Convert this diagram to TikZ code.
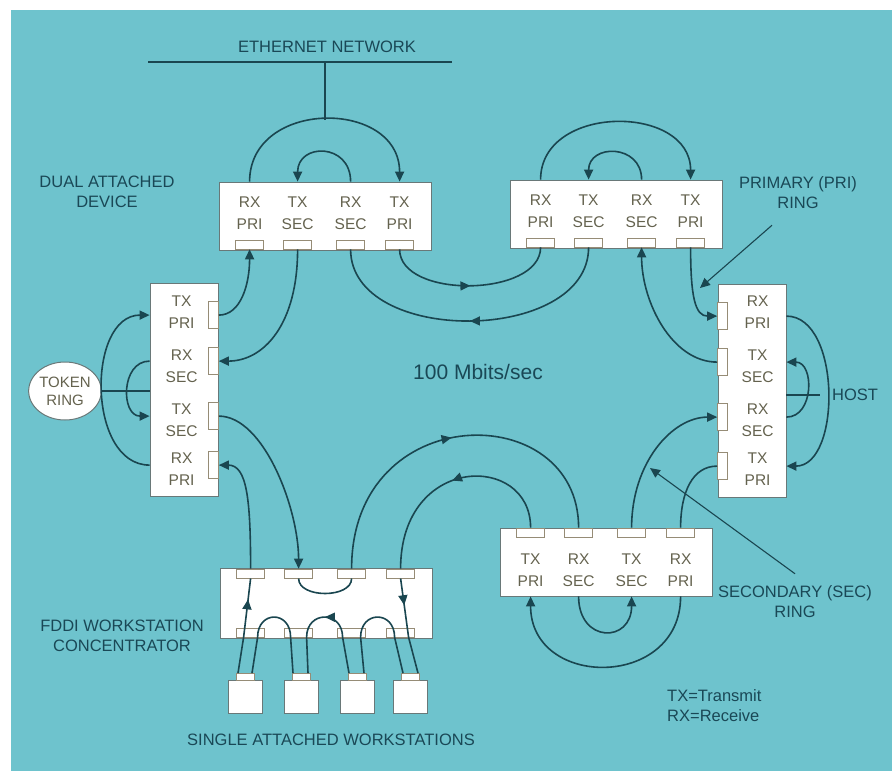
\documentclass[tikz,border=0pt]{standalone}
\usepackage{fontspec}
\setmainfont{Liberation Sans}
\usetikzlibrary{arrows.meta,positioning,calc,shapes.geometric,decorations.markings}

\definecolor{bgteal}{RGB}{110,195,205}
\definecolor{wirecol}{RGB}{26,70,80}
\definecolor{labcol}{RGB}{26,72,86}
\definecolor{portlab}{RGB}{100,98,78}
\definecolor{portedge}{RGB}{150,140,118}
\definecolor{boxedge}{RGB}{105,120,120}

\tikzset{
  box/.style={draw=boxedge, fill=white, line width=0.8pt, inner sep=0pt},
  hbox/.style={box, minimum width=212pt, minimum height=68pt},
  vbox/.style={box, minimum width=68pt, minimum height=213pt},
  hport/.style={draw=portedge, fill=white, line width=0.8pt, minimum width=28pt, minimum height=9pt, inner sep=0pt},
  vport/.style={hport, minimum width=10pt, minimum height=27pt},
  wsbox/.style={draw=boxedge, fill=white, line width=0.8pt, minimum width=34pt, minimum height=33pt, inner sep=0pt},
  wstab/.style={draw=portedge, fill=white, line width=0.8pt, minimum width=18pt, minimum height=7pt, inner sep=0pt},
  portlbl/.style={text=portlab, align=center, inner sep=0pt, font=\fontsize{15.5}{22}\selectfont},
  lbl/.style={text=labcol, align=center, inner sep=0pt, font=\fontsize{16.5}{20}\selectfont},
  wire/.style={draw=wirecol, line width=1.6pt},
  pointer/.style={draw=wirecol, line width=1.1pt},
  arrowend/.style={-{Triangle[length=10pt,width=9pt]}},
  arrowmid/.style={postaction={decorate}, decoration={markings, mark=at position #1 with {\arrow{Triangle[length=10pt,width=9pt]}}}},
}

\begin{document}
\begin{tikzpicture}[x=1pt, y=-1pt]
    \fill[white] (0,0) rectangle (892,771);
    \fill[bgteal] (11,10) rectangle (892,771);
    \useasboundingbox (0,0) rectangle (892,771);

    % ethernet
    \node (ethlbl) [lbl] at (327,47) {ETHERNET NETWORK};
    \coordinate (ethW) at (148,62);
    \coordinate (ethE) at (452,62);
    \coordinate (ethtap) at (325,62);
    \coordinate (ethtop) at (325,120);
    \draw[pointer] (ethW) -- (ethE);
    \draw[wire] (ethtap) -- (ethtop);

    % dual attached devices
    \node (dadA) [hbox] at (325,216) {};
    \foreach \i/\dx/\ta/\tb in {1/31/RX/PRI, 2/79/TX/SEC, 3/132/RX/SEC, 4/181/TX/PRI} {
        \node (dadA\i) [hport] at ($(dadA.south west)+(\dx,-6)$) {};
        \node (dadAl\i) [portlbl] at ($(dadA.north west)+(\dx,32)$) {\ta\\\tb};
    }
    \node (dadB) [hbox] at (616,214) {};
    \foreach \i/\dx/\ta/\tb in {1/31/RX/PRI, 2/79/TX/SEC, 3/132/RX/SEC, 4/181/TX/PRI} {
        \node (dadB\i) [hport] at ($(dadB.south west)+(\dx,-6)$) {};
        \node (dadBl\i) [portlbl] at ($(dadB.north west)+(\dx,32)$) {\ta\\\tb};
    }
    \node (dadL) [vbox] at (184,390) {};
    \foreach \i/\dy/\ly/\ta/\tb in {1/32/29/TX/PRI, 2/78/83/RX/SEC, 3/133/137/TX/SEC, 4/182/186/RX/PRI} {
        \node (dadL\i) [vport] at ($(dadL.north east)+(-5,\dy)$) {};
        \node (dadLl\i) [portlbl] at ($(dadL.north west)+(32,\ly)$) {\ta\\\tb};
    }
    \node (dadH) [vbox] at (752,391) {};
    \foreach \i/\dy/\ly/\ta/\tb in {1/32/28/RX/PRI, 2/78/82/TX/SEC, 3/133/136/RX/SEC, 4/182/185/TX/PRI} {
        \node (dadH\i) [vport] at ($(dadH.north west)+(5,\dy)$) {};
        \node (dadHl\i) [portlbl] at ($(dadH.north west)+(40,\ly)$) {\ta\\\tb};
    }
    \node (dadR) [hbox] at (606,562) {};
    \foreach \i/\dx/\ta/\tb in {1/31/TX/PRI, 2/79/RX/SEC, 3/132/TX/SEC, 4/181/RX/PRI} {
        \node (dadR\i) [hport] at ($(dadR.north west)+(\dx,5)$) {};
        \node (dadRl\i) [portlbl] at ($(dadR.north west)+(\dx,43)$) {\ta\\\tb};
    }

    % concentrator and workstations
    \node (conc) [hbox, minimum height=70pt] at (326,603) {};
    \foreach \i/\dx in {1/31, 2/79, 3/132, 4/181} {
        \node (concT\i) [hport] at ($(conc.north west)+(\dx,6)$) {};
        \node (concB\i) [hport] at ($(conc.south west)+(\dx,-6)$) {};
    }
    \foreach \i/\x in {1/245, 2/301, 3/357, 4/410} {
        \node (ws\i) [wsbox] at (\x,697) {};
        \node (tab\i) [wstab] at (\x,677) {};
    }

    % token ring and host
    \node (tok) [ellipse, draw=boxedge, fill=white, line width=1pt, minimum width=68pt, minimum height=58pt, inner sep=0pt, text=portlab, align=center, font=\fontsize{15}{18}\selectfont] at (65,391) {TOKEN\\RING};
    \draw[wire] (tok.east) -- (tok -| dadL.west);
    \node (hostlbl) [lbl, anchor=west] at (832,395) {HOST};
    \draw[wire, shorten >=12pt] (dadH.east |- hostlbl.west) -- (hostlbl.west);

    % loops on the boxes
    \draw[wire, arrowend] (dadA1 |- dadA.north) .. controls +(0,-83) and +(0,-83) .. (dadA4 |- dadA.north);
    \draw[wire, arrowend] (dadA3 |- dadA.north) .. controls +(0,-39) and +(0,-39) .. (dadA2 |- dadA.north);
    \draw[wire, arrowend] (dadB1 |- dadB.north) .. controls +(0,-76) and +(0,-76) .. (dadB4 |- dadB.north);
    \draw[wire, arrowend] (dadB3 |- dadB.north) .. controls +(0,-36) and +(0,-36) .. (dadB2 |- dadB.north);
    \draw[wire, arrowend] (dadR4 |- dadR.south) .. controls +(0,93) and +(0,93) .. (dadR1 |- dadR.south);
    \draw[wire, arrowend] (dadR2 |- dadR.south) .. controls +(0,47) and +(0,47) .. (dadR3 |- dadR.south);
    \draw[wire, arrowend] (dadL4 -| dadL.west) .. controls +(-63,0) and +(-63,0) .. (dadL1 -| dadL.west);
    \draw[wire, arrowend] (dadL2 -| dadL.west) .. controls +(-29,0) and +(-29,0) .. (dadL3 -| dadL.west);
    \draw[wire, arrowend] (dadH1 -| dadH.east) .. controls +(55,0) and +(55,0) .. (dadH4 -| dadH.east);
    \draw[wire, arrowend] (dadH3 -| dadH.east) .. controls +(28,0) and +(28,0) .. (dadH2 -| dadH.east);

    % ring between the boxes
    \draw[wire, arrowmid=0.5] (dadA4.south) .. controls +(0,50) and +(0,50) .. (dadB1.south);
    \draw[wire, arrowmid=0.5] (dadB2.south) .. controls +(0,97) and +(0,97) .. (dadA3.south);
    \draw[wire, arrowend] (dadL1.east) .. controls +(22,0) and +(0,35) .. (dadA1.south);
    \draw[wire, arrowend] (dadA2.south) .. controls +(0,75) and +(45,0) .. (dadL2.east);
    \draw[wire, arrowend] (dadB4.south) .. controls +(0,50) and +(-22,0) .. (dadH1.west);
    \draw[wire, arrowend] (dadH2.west) .. controls +(-45,0) and +(0,55) .. (dadB3.south);
    \draw[wire, arrowend] (dadR3.north) .. controls +(0,-65) and +(-45,0) .. (dadH3.west);
    \draw[wire] (dadH4.west) .. controls +(-25,0) and +(0,-35) .. (dadR4.north);
    \draw[wire, arrowend] (dadL3.east) .. controls +(45,0) and +(0,-60) .. (concT2.north);
    \draw[wire, arrowend] (concT1.north) .. controls +(0,-70) and +(28,0) .. (dadL4.east);
    \draw[wire] (concT2.south) .. controls +(0,20) and +(0,20) .. (concT3.south);
    \draw[wire, arrowmid=0.5] (concT3.north) .. controls +(0,-170) and +(0,-130) .. (dadR2.north);
    \draw[wire, arrowmid=0.5] (dadR1.north) .. controls +(0,-75) and +(0,-115) .. (concT4.north);

    % workstation lobes
    \draw[wire, arrowmid=0.78] ($(tab1.north)+(-7,0)$) -- ($(concB1.south)+(-7,0)$) -- (concT1.south);
    \draw[wire] ($(tab1.north)+(7,0)$) -- ($(concB1.south)+(7,0)$) .. controls +(0,-27) and +(0,-27) .. ($(concB2.south)+(-8,0)$) -- ($(tab2.north)+(-8,0)$);
    \draw[wire, arrowmid=0.5] ($(tab3.north)+(-8,0)$) -- ($(concB3.south)+(-9,0)$) .. controls +(0,-27) and +(0,-27) .. ($(concB2.south)+(8,0)$) -- ($(tab2.north)+(7,0)$);
    \draw[wire] ($(tab3.north)+(7,0)$) -- ($(concB3.south)+(9,0)$) .. controls +(0,-27) and +(0,-27) .. ($(concB4.south)+(-6,0)$) -- ($(tab4.north)+(-7,0)$);
    \draw[wire, arrowmid=0.28] (concT4.south) -- ($(concB4.south)+(8,0)$) -- ($(tab4.north)+(8,0)$);

    % labels
    \node (dadlbl) [lbl] at (107,192) {DUAL ATTACHED\\DEVICE};
    \node (conclbl) [lbl] at (122,636) {FDDI WORKSTATION\\CONCENTRATOR};
    \node (wslbl) [lbl] at (331,740) {SINGLE ATTACHED WORKSTATIONS};
    \node (ratelbl) [lbl, font=\fontsize{21}{25}\selectfont] at (478,372) {100 Mbits/sec};
    \node (keylbl) [lbl, align=left, anchor=west] at (667,706) {TX=Transmit\\RX=Receive};
    \node (prilbl) [lbl] at (798,193) {PRIMARY (PRI)\\RING};
    \coordinate (pritip) at (700,288);
    \draw[pointer, arrowend] ($(prilbl.south)+(-26,16)$) -- (pritip);
    \node (seclbl) [lbl] at (795,602) {SECONDARY (SEC)\\RING};
    \coordinate (sectip) at (650,468);
    \draw[pointer, arrowend] ($(seclbl.north)+(0,-12)$) -- (sectip);
\end{tikzpicture}
\end{document}
